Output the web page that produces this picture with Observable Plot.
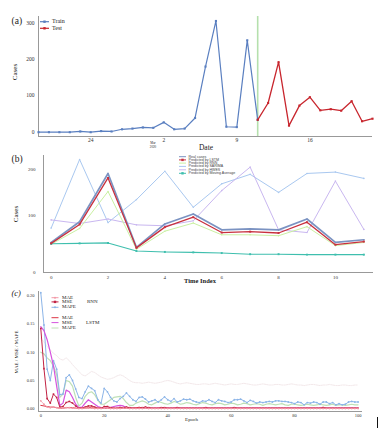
<!DOCTYPE html>
<html><head><meta charset="utf-8">
<script src="https://cdn.jsdelivr.net/npm/d3@7"></script>
<script src="https://cdn.jsdelivr.net/npm/@observablehq/plot@0.6"></script>
<style>
body{margin:0;background:#fff;}
#root{position:relative;width:379px;height:429px;overflow:hidden;background:#fff;}
.panel{position:absolute;left:0;}
svg text{font-family:"Liberation Serif","DejaVu Serif",serif;}
</style></head><body><div id="root"></div>
<script>
// ---------- Panel (a) ----------
const trainDates = ["2020-02-19","2020-02-20","2020-02-21","2020-02-22","2020-02-23","2020-02-24","2020-02-25","2020-02-26","2020-02-27","2020-02-28","2020-02-29","2020-03-01","2020-03-02","2020-03-03","2020-03-04","2020-03-05","2020-03-06","2020-03-07","2020-03-08","2020-03-09","2020-03-10","2020-03-11"];
const trainCases = [0,0,0,0,2,0,3,2,8,10,13,12,27,8,10,39,180,305,15,14,252,34];
const testDates = ["2020-03-11","2020-03-12","2020-03-13","2020-03-14","2020-03-15","2020-03-16","2020-03-17","2020-03-18","2020-03-19","2020-03-20","2020-03-21","2020-03-22"];
const testCases = [34,80,192,18,73,96,60,63,59,85,30,37];
const aYTicks = [0,100,200,300];
const aXTickDates = ["2020-02-24","2020-03-02","2020-03-09","2020-03-16"];
const aXTickLabels = ["24","2","9","16"];
const splitDate = ["2020-03-11"];
const aXDomain = ["2020-02-19","2020-03-22"];
const aYDomain = [-11.8,317.3];

// ---------- Panel (b) ----------
const timeIndex = [0,1,2,3,4,5,6,7,8,9,10,11];
const realCases  = [39,85,192,28,80,102,67,69,67,91,39,45];
const lstmPred   = [37,79,182,27,73,95,61,63,60,84,34,41];
const rnnPred    = [35,70,152,24,64,82,56,56,54,74,32,39];
const sarimaPred = [71,223,83,134,197,117,169,190,150,192,195,181];
const hwesPred   = [89,81,91,78,76,87,154,206,67,61,175,68];
const maPred     = [36,37,38,20,18,17,15.5,13,13,12,12,12];
const bSeriesNames = ["Real cases","Predicted by LSTM","Predicted by RNN","Predicted by SARIMA","Predicted by HWES","Predicted by Moving Average"];
const bXTicks = [0,2,4,6,8,10];
const bYTicks = [-27.6,100,200];
const bYTickLabels = ["0","100","200"];
const bXDomain = [-0.27,11.34];
const bYDomain = [-27.6,231.8];

// ---------- Panel (c) ----------
const cXTicks = [0,20,40,60,80,100];
const cYTicks = [0,0.05,0.10,0.15,0.20];
const cXDomain = [-0.72,101.4];
const cYDomain = [-0.0048,0.2072];
const rnnMAPE = [0.205,0.148,0.070,0.050,0.085,0.070,0.025,0.026,0.055,0.060,
 0.050,0.035,0.020,0.018,0.030,0.040,0.036,0.032,0.016,0.010,
 0.036,0.030,0.020,0.014,0.012,0.018,0.022,0.028,0.022,0.016,
 0.013,0.020,0.021,0.017,0.012,0.014,0.016,0.012,0.016,0.021,
 0.016,0.013,0.018,0.012,0.014,0.017,0.016,0.017,0.014,0.012,
 0.011,0.014,0.013,0.016,0.013,0.011,0.016,0.014,0.013,0.011,
 0.012,0.016,0.016,0.017,0.014,0.011,0.015,0.013,0.010,0.012,
 0.011,0.012,0.013,0.012,0.014,0.014,0.013,0.013,0.012,0.011,
 0.009,0.012,0.011,0.007,0.011,0.010,0.012,0.011,0.008,0.012,
 0.012,0.009,0.011,0.007,0.009,0.007,0.008,0.012,0.013,0.012,
 0.012];
const lstmMAPE = [0.100,0.097,0.090,0.085,0.075,0.060,0.020,0.026,0.050,0.048,
 0.040,0.020,0.005,0.010,0.022,0.028,0.030,0.025,0.015,0.008,
 0.008,0.012,0.016,0.020,0.021,0.022,0.018,0.011,0.006,0.006,
 0.010,0.012,0.014,0.012,0.008,0.007,0.010,0.013,0.011,0.009,
 0.008,0.010,0.013,0.011,0.008,0.009,0.011,0.010,0.008,0.007,
 0.009,0.011,0.010,0.008,0.007,0.009,0.010,0.009,0.007,0.008,
 0.010,0.009,0.007,0.008,0.010,0.009,0.007,0.008,0.009,0.008,
 0.006,0.008,0.009,0.008,0.007,0.008,0.009,0.007,0.006,0.008,
 0.008,0.007,0.006,0.007,0.008,0.007,0.006,0.007,0.008,0.007,
 0.006,0.007,0.008,0.006,0.007,0.007,0.006,0.007,0.008,0.007,
 0.007];
const faintLoss = [0.125,0.118,0.110,0.104,0.098,0.094,0.088,0.086,0.090,0.085,
 0.078,0.072,0.066,0.060,0.058,0.062,0.066,0.064,0.060,0.056,
 0.054,0.052,0.053,0.055,0.058,0.060,0.058,0.054,0.050,0.047,
 0.046,0.046,0.045,0.046,0.047,0.046,0.045,0.046,0.047,0.049,
 0.050,0.049,0.047,0.045,0.044,0.045,0.046,0.045,0.044,0.043,
 0.043,0.044,0.044,0.043,0.044,0.045,0.044,0.043,0.042,0.043,
 0.044,0.043,0.043,0.044,0.045,0.044,0.043,0.042,0.042,0.043,
 0.044,0.043,0.042,0.042,0.043,0.043,0.042,0.042,0.043,0.044,
 0.043,0.042,0.042,0.041,0.042,0.043,0.043,0.042,0.041,0.042,
 0.042,0.043,0.042,0.041,0.041,0.042,0.042,0.041,0.041,0.042,
 0.042];
const rnnMSE = [0.142,0.071,0.018,0.010,0.026,0.020,0.003,0.004,0.011,0.013,
 0.010,0.005,0.001,0.001,0.003,0.005,0.005,0.003,0.001,0.001,
 0.004,0.004,0.002,0.001,0.001,0.002,0.002,0.003,0.002,0.001,
 0.001,0.002,0.002,0.003,0.002,0.001,0.001,0.001,0.002,0.002,
 0.001,0.001,0.001,0.002,0.001,0.001,0.001,0.001,0.001,0.001,
 0.001,0.001,0.002,0.001,0.001,0.001,0.001,0.001,0.001,0.001,
 0.001,0.002,0.001,0.001,0.001,0.001,0.001,0.001,0.001,0.001,
 0.001,0.001,0.001,0.001,0.001,0.001,0.001,0.001,0.001,0.001,
 0.001,0.001,0.001,0.001,0.001,0.001,0.001,0.001,0.001,0.002,
 0.001,0.001,0.001,0.001,0.001,0.001,0.001,0.001,0.001,0.001,
 0.001];
const rnnMAE = [0.014,0.008,0.003,0.002,0.003,0.002,0.001,0.001,0.002,0.002,
 0.001,0.001,0.0005,0.0005,0.001,0.001,0.001,0.0005,0.0005,0.0005,
 0.001,0.001,0.0005,0.0005,0.0005,0.0005,0.001,0.001,0.0005,0.0005,
 0.0005,0.0005,0.0005,0.001,0.0005,0.0005,0.0005,0.0005,0.0005,0.0005,
 0.0005,0.0005,0.0005,0.0005,0.0005,0.0005,0.0005,0.0005,0.0005,0.0005,
 0.0005,0.0005,0.0005,0.0005,0.0005,0.0005,0.0005,0.0005,0.0005,0.0005,
 0.0005,0.0005,0.0005,0.0005,0.0005,0.0005,0.0005,0.0005,0.0005,0.0005,
 0.0005,0.0005,0.0005,0.0005,0.0005,0.0005,0.0005,0.0005,0.0005,0.0005,
 0.0005,0.0005,0.0005,0.0005,0.0005,0.0005,0.0005,0.0005,0.0005,0.0005,
 0.0005,0.0005,0.0005,0.0005,0.0005,0.0005,0.0005,0.0005,0.0005,0.0005,
 0.0005];
const lstmMSE = [0.145,0.138,0.122,0.100,0.076,0.040,0.006,0.010,0.033,0.030,
 0.020,0.008,0.002,0.003,0.010,0.016,0.012,0.008,0.004,0.002,
 0.001,0.001,0.002,0.004,0.005,0.006,0.005,0.002,0.001,0.001,
 0.001,0.001,0.002,0.002,0.001,0.001,0.001,0.001,0.001,0.001,
 0.001,0.001,0.001,0.001,0.001,0.001,0.001,0.001,0.001,0.001,
 0.001,0.001,0.001,0.001,0.001,0.001,0.001,0.001,0.001,0.001,
 0.001,0.001,0.001,0.001,0.001,0.001,0.001,0.001,0.001,0.001,
 0.001,0.001,0.001,0.001,0.001,0.001,0.001,0.001,0.001,0.001,
 0.001,0.001,0.001,0.001,0.001,0.001,0.001,0.001,0.001,0.001,
 0.001,0.001,0.001,0.001,0.001,0.001,0.001,0.001,0.001,0.001,
 0.001];
const lstmMAE = [0.006,0.005,0.004,0.003,0.003,0.002,0.001,0.001,0.002,0.002,
 0.002,0.001,0.001,0.001,0.001,0.002,0.002,0.001,0.001,0.001,
 0.001,0.001,0.001,0.001,0.001,0.001,0.001,0.001,0.001,0.001,
 0.002,0.002,0.001,0.001,0.001,0.001,0.001,0.001,0.001,0.001,
 0.001,0.001,0.001,0.001,0.001,0.001,0.001,0.001,0.001,0.001,
 0.001,0.001,0.001,0.001,0.001,0.001,0.001,0.001,0.001,0.001,
 0.001,0.001,0.001,0.001,0.001,0.001,0.001,0.001,0.001,0.001,
 0.001,0.001,0.001,0.001,0.001,0.001,0.001,0.001,0.001,0.001,
 0.001,0.001,0.001,0.001,0.001,0.001,0.001,0.001,0.001,0.001,
 0.001,0.001,0.001,0.001,0.001,0.001,0.001,0.001,0.001,0.001,
 0.001];

const SERIF = "Liberation Serif";
const SANS = "Liberation Sans";
const root = document.getElementById("root");
function place(el, top){ el.classList.add("panel"); el.style.top = top + "px"; root.appendChild(el); }

// ===== (a) =====
const train = trainDates.map((d,i)=>({date:new Date(d), v:trainCases[i]}));
const test = testDates.map((d,i)=>({date:new Date(d), v:testCases[i]}));
const aLabel = new Map(aXTickDates.map((d,i)=>[+new Date(d), aXTickLabels[i]]));
const TRAIN_C = "#5a7fc0", TEST_C = "#c8262e";
const plotA = Plot.plot({
  width:379, height:150, marginLeft:38, marginRight:7, marginTop:16, marginBottom:14,
  style:{fontFamily:SERIF, background:"transparent", color:"#333"},
  x:{type:"utc", domain:aXDomain.map(d=>new Date(d))},
  y:{domain:aYDomain},
  marks:[
    Plot.ruleX(splitDate.map(d=>new Date(d)), {stroke:"#b5e0ad", strokeWidth:1.6}),
    Plot.ruleX([new Date(aXDomain[0])], {stroke:"#999", strokeWidth:1}),
    Plot.ruleY([aYDomain[0]], {stroke:"#999", strokeWidth:1}),
    Plot.axisY({ticks:aYTicks, tickSize:0, tickPadding:4, fontSize:5.5, label:null}),
    Plot.axisX({ticks:aXTickDates.map(d=>new Date(d)), tickFormat:d=>aLabel.get(+d), tickSize:0, tickPadding:2, fontSize:5.5, label:null}),
    Plot.line(train, {x:"date", y:"v", stroke:TRAIN_C, strokeWidth:1.2}),
    Plot.dot(train, {x:"date", y:"v", symbol:"square", r:1.2, fill:TRAIN_C}),
    Plot.line(test, {x:"date", y:"v", stroke:TEST_C, strokeWidth:1.3}),
    Plot.dot(test, {x:"date", y:"v", symbol:"square", r:1.2, fill:TEST_C})
  ]
});
place(plotA, 0);

// ===== (b) =====
const bColors = ["#7b93c2","#c8303e","#c9f0a2","#a9c8f0","#c9b7f0","#3fbfae"];
const bSeries = [realCases, lstmPred, rnnPred, sarimaPred, hwesPred, maPred];
const bWidths = [1.7,1.3,1,1,1,1.1];
const bLong = [];
bSeries.forEach((arr,s)=>arr.forEach((v,i)=>bLong.push({s, name:bSeriesNames[s], t:timeIndex[i], v})));
const bMarks = [
  Plot.ruleX([bXDomain[0]], {stroke:"#999"}),
  Plot.ruleY([bYDomain[0]], {stroke:"#999"}),
  Plot.axisY({ticks:bYTicks, tickFormat:d=>bYTickLabels[bYTicks.indexOf(d)], tickSize:0, tickPadding:8, fontSize:5, label:null}),
  Plot.axisX({ticks:bXTicks, tickSize:0, tickPadding:3, fontSize:5, label:null})
];
[3,4,2,5,0,1].forEach(s=>{
  const data = bLong.filter(d=>d.s===s);
  bMarks.push(Plot.line(data, {x:"t", y:"v", stroke:bColors[s], strokeWidth:bWidths[s]}));
  bMarks.push(Plot.dot(data, {x:"t", y:"v", symbol: s===1||s===5 ? "square":"circle", r: s===1||s===5 ? 1.1 : 0.8, fill:bColors[s]}));
});
const plotB = Plot.plot({
  width:379, height:135, marginLeft:43, marginRight:6, marginTop:5, marginBottom:13,
  style:{fontFamily:SERIF, background:"transparent", color:"#333"},
  x:{domain:bXDomain}, y:{domain:bYDomain},
  marks:bMarks
});
place(plotB, 150);

// ===== (c) =====
const cSeries = [
  {name:"faint", data:faintLoss, color:"#f3e8ea", w:1, dash:"1.5,1", dot:null},
  {name:"LSTM MAPE", data:lstmMAPE, color:"#bfe0b6", w:1.2, dot:null},
  {name:"RNN MAPE", data:rnnMAPE, color:"#8cb5e8", w:1, dot:"circle"},
  {name:"LSTM MSE", data:lstmMSE, color:"#d653de", w:1.2, dot:null},
  {name:"RNN MSE", data:rnnMSE, color:"#c22244", w:1, dot:"square"},
  {name:"LSTM MAE", data:lstmMAE, color:"#dc3444", w:1, dot:null},
  {name:"RNN MAE", data:rnnMAE, color:"#f29aa8", w:0.8, dot:"circle"}
];
const cMarks = [
  Plot.ruleX([cXDomain[0]], {stroke:"#999"}),
  Plot.ruleY([cYDomain[0]], {stroke:"#999"}),
  Plot.axisY({ticks:cYTicks, tickFormat:d3.format(".2f"), tickSize:0, tickPadding:4, fontSize:4.5, label:null}),
  Plot.axisX({ticks:cXTicks, tickSize:0, tickPadding:2, fontSize:4.5, label:null})
];
cSeries.forEach(s=>{
  cMarks.push(Plot.line(s.data, {x:(d,i)=>i, y:d=>d, stroke:s.color, strokeWidth:s.w, strokeDasharray:s.dash}));
  if (s.dot) cMarks.push(Plot.dot(s.data, {x:(d,i)=>i, y:d=>d, symbol:s.dot, r:0.9, fill:s.color}));
});
const plotC = Plot.plot({
  width:379, height:144, marginLeft:38, marginRight:17, marginTop:6, marginBottom:18,
  style:{fontFamily:SERIF, background:"transparent", color:"#333"},
  x:{domain:cXDomain}, y:{domain:cYDomain},
  marks:cMarks
});
place(plotC, 285);

// ===== overlay: panel letters, axis titles, legends =====
const ov = d3.select(root).append("svg")
  .attr("width",379).attr("height",429)
  .style("position","absolute").style("left","0").style("top","0").style("pointer-events","none");
function txt(x,y,s,size,opts={}){
  const t = ov.append("text").attr("x",x).attr("y",y).attr("font-size",size)
    .attr("fill",opts.fill||"#222").attr("dominant-baseline","middle")
    .attr("text-anchor",opts.anchor||"start").text(s);
  if (opts.family) t.style("font-family",opts.family);
  if (opts.weight) t.attr("font-weight",opts.weight);
  if (opts.italic) t.attr("font-style","italic");
  if (opts.rotate) t.attr("transform",`rotate(-90,${x},${y})`);
  return t;
}
function swatch(x1,x2,y,color,w,marker){
  ov.append("line").attr("x1",x1).attr("x2",x2).attr("y1",y).attr("y2",y).attr("stroke",color).attr("stroke-width",w);
  const cx=(x1+x2)/2;
  if (marker==="square") ov.append("rect").attr("x",cx-1.2).attr("y",y-1.2).attr("width",2.4).attr("height",2.4).attr("fill",color);
  if (marker==="circle") ov.append("circle").attr("cx",cx).attr("cy",y).attr("r",1).attr("fill",color);
}
// (a)
txt(11.5,21.7,"(a)",9.5);
txt(15,72,"Cases",7,{anchor:"middle",rotate:true});
swatch(40,49,21.7,TRAIN_C,1.2,"square");
txt(52,21.9,"Train",6);
swatch(40,49,28.3,TEST_C,1.2,"square");
txt(52,28.5,"Test",6);
txt(206,148,"Date",7.5,{anchor:"middle"});
txt(153,143.6,"Mar",3.2,{anchor:"middle"});
txt(153,146.8,"2020",3.2,{anchor:"middle"});
// (b)
txt(11.5,160,"(b)",9.5);
txt(16,214,"Cases",7,{anchor:"middle",rotate:true});
txt(200,281.7,"Time Index",6.5,{anchor:"middle",weight:"bold"});
const bLegY = [156.7,159.9,163.1,166.4,169.8,173.3];
bSeriesNames.forEach((n,i)=>{
  swatch(179,186,bLegY[i],bColors[i],1, i===1||i===5 ? "square" : null);
  txt(188.5,bLegY[i],n,3.6,{family:SANS,fill:"#444"});
});
// (c)
txt(11.5,294.5,"(c)",8.5,{italic:true});
txt(16.5,352,"MAE / MSE / MAPE",5,{anchor:"middle",rotate:true});
txt(191.5,420,"Epoch",5,{anchor:"middle"});
const cLeg = [
  {y:297.7, label:"MAE", color:"#f29aa8", m:"circle"},
  {y:301.9, label:"MSE", color:"#c22244", m:"square"},
  {y:307.3, label:"MAPE", color:"#8cb5e8", m:"circle"},
  {y:317.7, label:"MAE", color:"#dc3444", m:null},
  {y:322.6, label:"MSE", color:"#d653de", m:null},
  {y:328, label:"MAPE", color:"#bfe0b6", m:null}
];
cLeg.forEach(d=>{ swatch(51.5,58.5,d.y,d.color,1,d.m); txt(62,d.y,d.label,5); });
txt(87,301.9,"RNN",5);
txt(86,323,"LSTM",5);
// stray cursor bar at bottom-right of the figure
ov.append("line").attr("x1",377.5).attr("x2",377.5).attr("y1",417).attr("y2",428).attr("stroke","#111").attr("stroke-width",1);
</script></body></html>
